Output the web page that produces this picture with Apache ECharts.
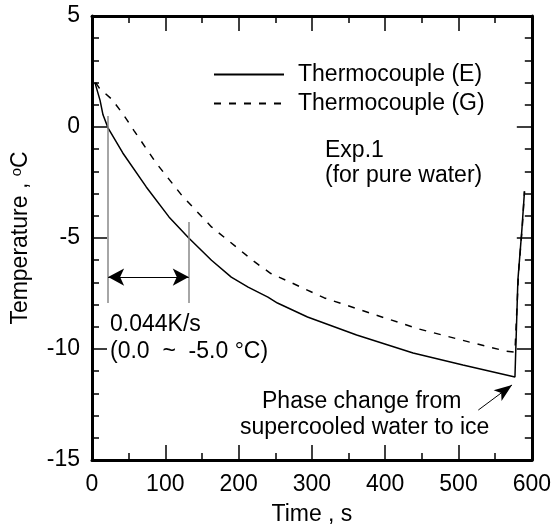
<!DOCTYPE html>
<html>
<head>
<meta charset="utf-8">
<script src="https://cdn.jsdelivr.net/npm/echarts@6/dist/echarts.min.js"></script>
<style>
html,body{margin:0;padding:0;background:#fff;}
#chart{width:554px;height:532px;}
</style>
</head>
<body>
<div id="chart"></div>
<script>
// ---- data ----
var timeE = [4, 11, 15, 22, 42, 74, 105, 132, 163, 190, 213, 240, 253, 294, 361, 438, 506, 577, 581, 586.5, 590];
var tempE = [2.0, 1.2, 0.55, -0.05, -1.17, -2.7, -4.05, -5.0, -6.0, -6.76, -7.21, -7.66, -7.93, -8.56, -9.37, -10.18, -10.72, -11.26, -6.9, -4.6, -2.9];
var timeG = [5, 10, 27, 43, 57, 87, 123, 163, 204, 222, 244, 271, 317, 379, 446, 514, 564, 577, 582, 587, 590];
var tempG = [2.0, 1.75, 1.25, 0.55, -0.15, -1.6, -3.1, -4.5, -5.6, -6.08, -6.6, -7.0, -7.7, -8.38, -9.1, -9.68, -10.09, -10.14, -6.5, -4.5, -2.9];
var xTicks = [0, 100, 200, 300, 400, 500, 600];
var yTicks = [-15, -10, -5, 0, 5];
var seriesNames = ['Thermocouple (E)', 'Thermocouple (G)'];
// annotation anchors (data coordinates)
var rateStart = 22, rateEnd = 132;
var rateLineTop1 = 0.5, rateLineTop2 = -4.28, rateLineBottom = -7.93, rateArrowY = -6.76;
var phaseArrowFrom = [527, -12.75], phaseArrowTo = [573, -11.62];

function zip(a, b) { return a.map(function (v, i) { return [v, b[i]]; }); }

var FONT = 'Liberation Sans, Arial, Helvetica, sans-serif';
var FS = 23;
var chart = echarts.init(document.getElementById('chart'));

var axisLine = { show: true, onZero: false, lineStyle: { color: '#000', width: 3 } };
var axisTick = { show: true, inside: true, length: 15, lineStyle: { color: '#000', width: 1.5 } };

function minor(n) { return { show: true, splitNumber: n, length: 7, lineStyle: { color: '#000', width: 1.5 } }; }

var option = {
  animation: false,
  backgroundColor: '#fff',
  textStyle: { fontFamily: FONT },
  grid: { left: 92, right: 17, top: 16, bottom: 72 },
  legend: {
    orient: 'vertical',
    left: 213, top: 63, padding: 0,
    itemWidth: 70, itemHeight: 14, itemGap: 6,
    data: seriesNames,
    itemStyle: { color: 'rgba(0,0,0,0)', borderWidth: 0 },
    textStyle: { fontFamily: FONT, fontSize: FS, color: '#000', padding: [0, 0, 0, 9] }
  },
  xAxis: [
    {
      type: 'value', min: xTicks[0], max: xTicks[xTicks.length - 1], interval: 100,
      position: 'bottom',
      name: 'Time , s', nameLocation: 'middle', nameGap: 43,
      nameTextStyle: { fontFamily: FONT, fontSize: FS, color: '#000' },
      axisLine: axisLine, axisTick: axisTick, minorTick: minor(2), splitLine: { show: false },
      axisLabel: { fontFamily: FONT, fontSize: FS, color: '#000', margin: 13 }
    },
    {
      type: 'value', min: xTicks[0], max: xTicks[xTicks.length - 1], interval: 100,
      position: 'top',
      axisLine: axisLine, axisTick: axisTick, minorTick: minor(2), splitLine: { show: false },
      axisLabel: { show: false }
    }
  ],
  yAxis: [
    {
      type: 'value', min: yTicks[0], max: yTicks[yTicks.length - 1], interval: 5,
      position: 'left',
      name: 'Temperature , {sup|o}C', nameLocation: 'middle', nameGap: 60,
      nameTextStyle: {
        fontFamily: FONT, fontSize: FS, color: '#000',
        rich: { sup: { fontFamily: FONT, fontSize: 15, color: '#000', verticalAlign: 'top', lineHeight: 23 } }
      },
      axisLine: axisLine, axisTick: axisTick, minorTick: minor(5), splitLine: { show: false },
      axisLabel: { fontFamily: FONT, fontSize: FS, color: '#000', margin: 12 }
    },
    {
      type: 'value', min: yTicks[0], max: yTicks[yTicks.length - 1], interval: 5,
      position: 'right',
      axisLine: axisLine, axisTick: axisTick, minorTick: minor(5), splitLine: { show: false },
      axisLabel: { show: false }
    }
  ],
  series: [
    {
      name: seriesNames[0], type: 'line', xAxisIndex: 0, yAxisIndex: 0,
      data: zip(timeE, tempE), showSymbol: false, symbol: 'none', smooth: false,
      lineStyle: { color: '#000', width: 1.5, type: 'solid' },
      itemStyle: { color: '#000' },
      markLine: {
        silent: true, animation: false,
        label: { show: false },
        data: [
          [{ coord: [rateStart, rateLineTop1], symbol: 'none', lineStyle: { color: '#888', width: 1.5, type: 'solid' } },
           { coord: [rateStart, rateLineBottom], symbol: 'none' }],
          [{ coord: [rateEnd, rateLineTop2], symbol: 'none', lineStyle: { color: '#888', width: 1.5, type: 'solid' } },
           { coord: [rateEnd, rateLineBottom], symbol: 'none' }],
          [{ coord: [rateStart, rateArrowY], symbol: 'arrow', symbolSize: [13, 16], lineStyle: { color: '#000', width: 1.2, type: 'solid' } },
           { coord: [rateEnd, rateArrowY], symbol: 'arrow', symbolSize: [13, 16] }],
          [{ coord: phaseArrowFrom, symbol: 'none', lineStyle: { color: '#000', width: 1, type: 'solid' } },
           { coord: phaseArrowTo, symbol: 'arrow', symbolSize: [10, 18] }]
        ]
      }
    },
    {
      name: seriesNames[1], type: 'line', xAxisIndex: 0, yAxisIndex: 0,
      data: zip(timeG, tempG), showSymbol: false, symbol: 'none', smooth: false,
      lineStyle: { color: '#000', width: 1.5, type: [7, 8] },
      itemStyle: { color: '#000' }
    }
  ],
  graphic: [
    { type: 'text', left: 325, top: 139, style: { text: 'Exp.1', font: FS + 'px ' + FONT, fill: '#000' } },
    { type: 'text', left: 325, top: 164, style: { text: '(for pure water)', font: FS + 'px ' + FONT, fill: '#000' } },
    { type: 'text', left: 110, top: 313, style: { text: '0.044K/s', font: FS + 'px ' + FONT, fill: '#000' } },
    { type: 'text', left: 110, top: 340, style: { text: '(0.0  ~  -5.0 \u00B0C)', font: FS + 'px ' + FONT, fill: '#000' } },
    { type: 'text', left: 262, top: 390, style: { text: 'Phase change from', font: FS + 'px ' + FONT, fill: '#000' } },
    { type: 'text', left: 240, top: 416, style: { text: 'supercooled water to ice', font: FS + 'px ' + FONT, fill: '#000' } }
  ]
};
chart.setOption(option);
</script>
</body>
</html>
